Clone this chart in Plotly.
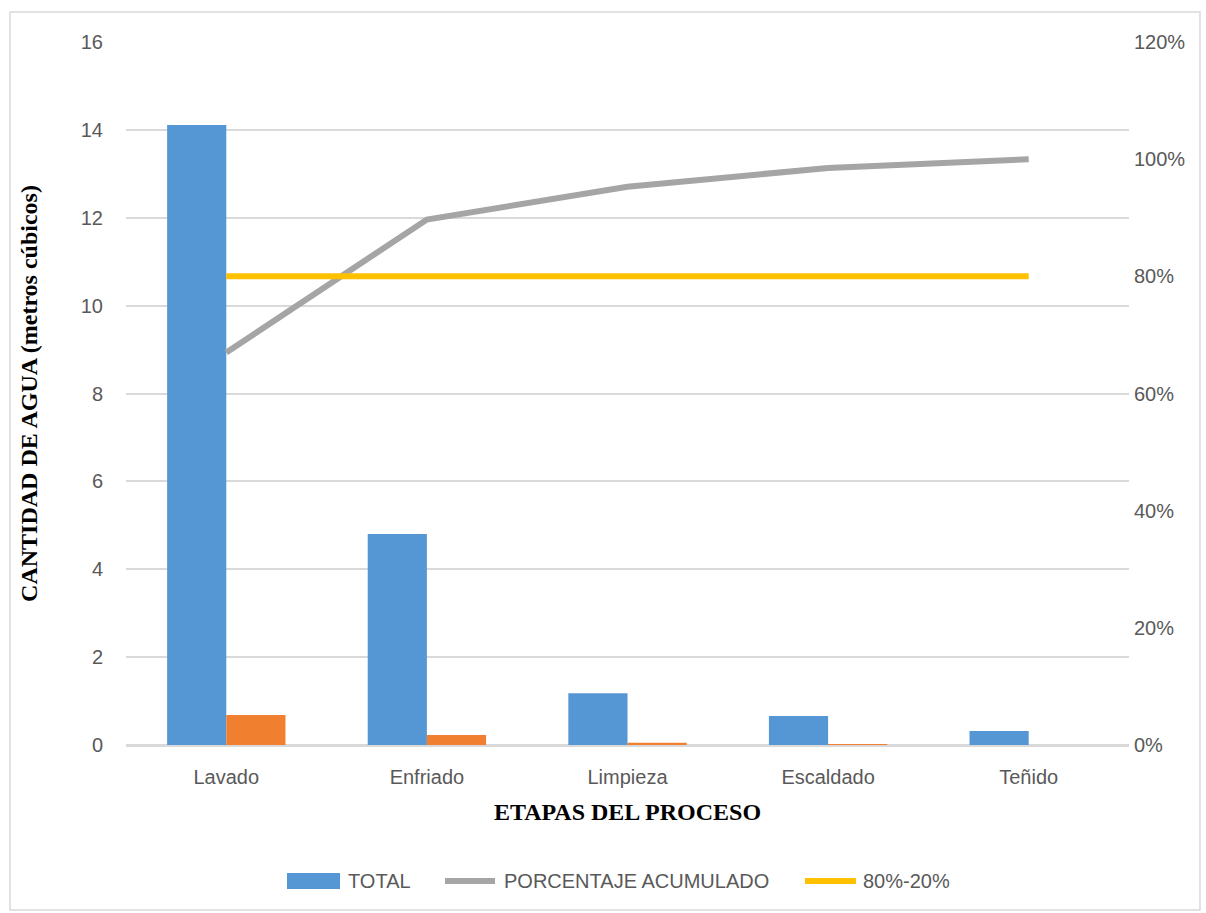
import plotly.graph_objects as go

categories = ["Lavado", "Enfriado", "Limpieza", "Escaldado", "Teñido"]
total = [14.11, 4.80, 1.18, 0.66, 0.32]
secondary = [0.68, 0.23, 0.05, 0.02, 0.0]
acumulado = [0.670, 0.897, 0.953, 0.985, 1.0]
linea_80 = [0.80, 0.80, 0.80, 0.80, 0.80]
legend_labels = ["TOTAL", "PORCENTAJE ACUMULADO", "80%-20%"]

BLUE, ORANGE, GRAY, GOLD = "#5597D5", "#F07F2F", "#A5A5A5", "#FFC000"
tick_font = dict(family="Liberation Sans", size=20, color="#595959")

fig = go.Figure()
fig.add_trace(go.Bar(x=categories, y=total, name=legend_labels[0], showlegend=False,
                     marker=dict(color=BLUE, line=dict(width=0))))
fig.add_trace(go.Bar(x=categories, y=secondary, name="serie2", showlegend=False,
                     marker=dict(color=ORANGE, line=dict(width=0))))
fig.add_trace(go.Scatter(x=categories, y=acumulado, name=legend_labels[1], showlegend=False,
                         mode="lines", line=dict(color=GRAY, width=6), yaxis="y2"))
fig.add_trace(go.Scatter(x=categories, y=linea_80, name=legend_labels[2], showlegend=False,
                         mode="lines", line=dict(color=GOLD, width=6), yaxis="y2"))

L, R, T, B = 126, 77, 42, 168
W, H = 1206, 913
pw, ph = W - L - R, H - T - B

def px(x):
    return (x - L) / pw

def py(y):
    return (H - B - y) / ph

shapes = [dict(type="rect", xref="paper", yref="paper",
               x0=px(10), x1=px(1200), y0=py(910), y1=py(12),
               line=dict(color="#D9D9D9", width=1.5), fillcolor="rgba(0,0,0,0)", layer="below")]

# manual legend (swatches + labels)
ly = 881
shapes.append(dict(type="rect", xref="paper", yref="paper", x0=px(287), x1=px(340),
                   y0=py(889), y1=py(873), line=dict(width=0), fillcolor=BLUE))
shapes.append(dict(type="line", xref="paper", yref="paper", x0=px(445), x1=px(495),
                   y0=py(ly), y1=py(ly), line=dict(color=GRAY, width=6)))
shapes.append(dict(type="line", xref="paper", yref="paper", x0=px(805), x1=px(856),
                   y0=py(ly), y1=py(ly), line=dict(color=GOLD, width=6)))
annotations = []
for label, x0 in zip(legend_labels, [346, 502, 861]):
    annotations.append(dict(text=label, xref="paper", yref="paper", x=px(x0), y=py(ly),
                            xanchor="left", yanchor="middle", showarrow=False,
                            font=tick_font))

fig.update_layout(
    width=W, height=H,
    margin=dict(l=L, r=R, t=T, b=B),
    paper_bgcolor="white", plot_bgcolor="white",
    barmode="group", bargap=0.41, bargroupgap=0,
    showlegend=False,
    xaxis=dict(showgrid=False, tickfont=tick_font, ticklabelstandoff=18,
               showline=False, zeroline=False,
               title=dict(text="<b>ETAPAS DEL PROCESO</b>",
                          font=dict(family="Liberation Serif", size=24, color="black"),
                          standoff=16)),
    yaxis=dict(range=[0, 16], dtick=2, showgrid=True, gridcolor="#D9D9D9", gridwidth=2,
               zeroline=True, zerolinecolor="#D9D9D9", zerolinewidth=3,
               tickfont=tick_font, ticklabelstandoff=22, showline=False,
               title=dict(text="<b>CANTIDAD DE AGUA (metros cúbicos)</b>",
                          font=dict(family="Liberation Serif", size=24, color="black"),
                          standoff=36)),
    yaxis2=dict(range=[0, 1.2], dtick=0.2, tickformat=".0%", overlaying="y", side="right",
                showgrid=False, zeroline=False, tickfont=tick_font, ticklabelstandoff=4,
                showline=False),
    shapes=shapes,
    annotations=annotations,
)

fig.write_html("out.html")
